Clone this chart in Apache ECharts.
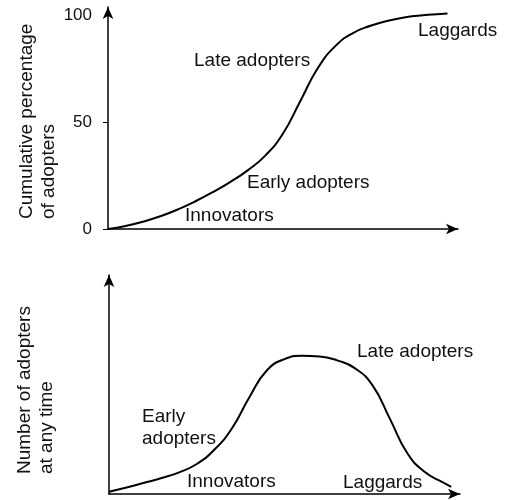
<!DOCTYPE html>
<html>
<head>
<meta charset="utf-8">
<script src="https://cdn.jsdelivr.net/npm/echarts@6/dist/echarts.min.js"></script>
<style>
  html, body { margin: 0; padding: 0; background: #fff; }
  #main { width: 505px; height: 500px; }
</style>
</head>
<body>
<div id="main"></div>
<script>
// S-curve (cumulative) and bell curve (adopters at any time)
var timeTop = [0, 5, 10, 15, 20, 25, 30, 35, 40, 45, 50, 55, 60, 65, 70, 75, 80, 85, 90, 95, 97];
var cumTop = [0, 1.4, 3.4, 6, 9.2, 13, 17.3, 22.1, 27.6, 34.5, 44.7, 60.1, 75.5, 85.8, 91.8, 95.2, 97.6, 99.2, 100.1, 100.7, 101];

var timeBottom = [0, 5, 10, 15, 20, 25, 30, 35, 40, 45, 50, 55, 60, 65, 70, 75, 80, 85, 90, 95, 97.5];
var countBottom = [1, 3, 5.1, 7.3, 9.9, 13.7, 20.2, 29.9, 44.2, 56.5, 61.6, 63.1, 62.8, 61, 57.5, 49.8, 34.4, 18.6, 10, 5.4, 3.3];

var yTicksTop = [0, 50, 100];

function pairs(xs, ys) {
  var out = [];
  for (var i = 0; i < xs.length; i++) out.push([xs[i], ys[i]]);
  return out;
}

var chart = echarts.init(document.getElementById('main'));
var FONT = '"Liberation Sans", Arial, Helvetica, sans-serif';
var axisLine = {
  show: true,
  symbol: ['none', 'arrow'],
  symbolSize: [8, 12],
  lineStyle: { color: '#000', width: 1.5 }
};

function note(text, x, y) {
  return {
    type: 'text', x: x, y: y,
    style: { text: text, fill: '#111', font: '19px ' + FONT, textVerticalAlign: 'middle', lineHeight: 22 }
  };
}

option = {
  animation: false,
  backgroundColor: '#fff',
  grid: [
    { left: 108, top: 7, width: 350, height: 222 },
    { left: 109, top: 275, width: 351, height: 219 }
  ],
  xAxis: [
    { gridIndex: 0, type: 'value', min: 0, max: 100, axisLine: axisLine,
      axisTick: { show: false }, axisLabel: { show: false }, splitLine: { show: false } },
    { gridIndex: 1, type: 'value', min: 0, max: 100, axisLine: axisLine,
      axisTick: { show: false }, axisLabel: { show: false }, splitLine: { show: false } }
  ],
  yAxis: [
    { gridIndex: 0, type: 'value', min: 0, max: 104, axisLine: axisLine,
      axisTick: { show: true, length: 5, customValues: [0, 50], lineStyle: { color: '#000', width: 1 } },
      axisLabel: { show: true, customValues: yTicksTop, color: '#111', fontSize: 17, fontFamily: FONT, margin: 16 },
      splitLine: { show: false } },
    { gridIndex: 1, type: 'value', min: 0, max: 100, axisLine: axisLine,
      axisTick: { show: false }, axisLabel: { show: false }, splitLine: { show: false } }
  ],
  series: [
    { type: 'line', xAxisIndex: 0, yAxisIndex: 0, data: pairs(timeTop, cumTop),
      smooth: 0.5, showSymbol: false, lineStyle: { color: '#000', width: 2 } },
    { type: 'line', xAxisIndex: 1, yAxisIndex: 1, data: pairs(timeBottom, countBottom),
      smooth: 0.5, showSymbol: false, lineStyle: { color: '#000', width: 2 } }
  ],
  graphic: [
    { type: 'text', x: 16, y: 219, rotation: Math.PI / 2,
      style: { text: 'Cumulative percentage\nof adopters', fill: '#111', font: '19px ' + FONT,
               textAlign: 'left', textVerticalAlign: 'top', lineHeight: 22 } },
    { type: 'text', x: 14, y: 474, rotation: Math.PI / 2,
      style: { text: 'Number of adopters\nat any time', fill: '#111', font: '19px ' + FONT,
               textAlign: 'left', textVerticalAlign: 'top', lineHeight: 22 } },
    note('Late adopters', 194, 61),
    note('Laggards', 418, 31),
    note('Early adopters', 247, 183),
    note('Innovators', 185, 216),
    note('Late adopters', 357, 352),
    note('Early\nadopters', 142, 428),
    note('Innovators', 187, 482),
    note('Laggards', 343, 483)
  ]
};

chart.setOption(option);
</script>
</body>
</html>
